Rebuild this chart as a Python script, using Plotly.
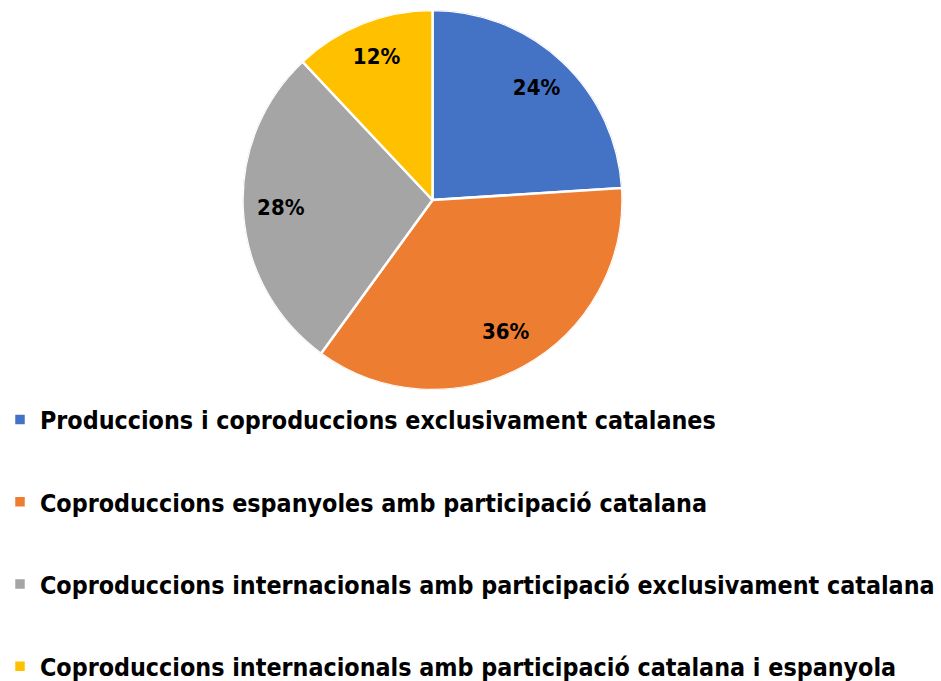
import plotly.graph_objects as go

categories = [
    "Produccions i coproduccions exclusivament catalanes",
    "Coproduccions espanyoles amb participació catalana",
    "Coproduccions internacionals amb participació exclusivament catalana",
    "Coproduccions internacionals amb participació catalana i espanyola",
]
values = [24, 36, 28, 12]
colors = ["#4472C4", "#ED7D31", "#A5A5A5", "#FFC000"]

W, H = 941, 681
cx, cy, R = 432.5, 200, 190
dom = dict(x=[(cx - R) / W, (cx + R) / W], y=[1 - (cy + R) / H, 1 - (cy - R) / H])

FONT = "DejaVu Sans Condensed, DejaVu Sans"

total = sum(values)
widths, mids = [], []
cum = 0.0
for v in values:
    w = v / total * 360
    widths.append(w)
    mids.append(cum + w / 2)
    cum += w

fig = go.Figure()
# pie slices drawn as polar bars
for i, (c, col) in enumerate(zip(categories, colors)):
    fig.add_trace(go.Barpolar(
        r=[1], theta=[mids[i]], width=[widths[i]], base=0,
        name=c, legendgroup=f"g{i}",
        marker=dict(color=col, line=dict(color="white", width=2.5)),
        hovertemplate=f"{c}: {values[i]}%<extra></extra>",
    ))

pct_text = [f"{round(v / total * 100)}%" for v in values]
fig.add_trace(go.Scatterpolar(
    r=[0.8] * len(values), theta=mids, mode="text", text=pct_text,
    textposition="middle center",
    textfont=dict(family=FONT, size=22, color="black", weight="bold"),
    showlegend=False, hoverinfo="skip",
))

fig.update_layout(
    width=W, height=H,
    margin=dict(l=0, r=0, t=0, b=0, autoexpand=False),
    paper_bgcolor="white",
    plot_bgcolor="white",
    polar=dict(
        domain=dom, bgcolor="rgba(0,0,0,0)", hole=0,
        radialaxis=dict(visible=False, range=[0, 1]),
        angularaxis=dict(visible=False, rotation=90, direction="clockwise"),
    ),
    showlegend=True,
    legend=dict(
        x=0, y=-8 / H, xanchor="left", yanchor="bottom",
        font=dict(family=FONT, size=24.8, color="black", weight="bold"),
        tracegroupgap=47,
        bgcolor="rgba(0,0,0,0)",
        itemclick=False, itemdoubleclick=False,
    ),
)

fig.write_html(
    "out.html",
    config={"displayModeBar": False},
    post_script="document.body.style.margin='0';",
)
